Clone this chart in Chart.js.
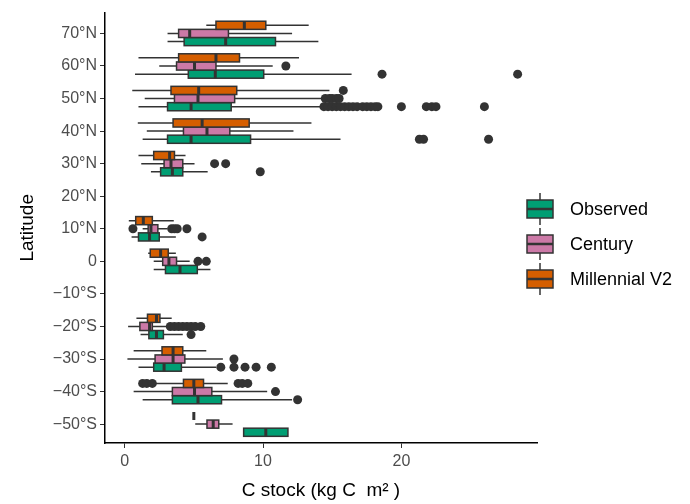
<!DOCTYPE html>
<html>
<head>
<meta charset="utf-8">
<script src="https://cdn.jsdelivr.net/npm/chart.js@4"></script>
<style>
  html, body { margin: 0; padding: 0; background: #fff; }
</style>
</head>
<body>
<canvas id="chart" width="690" height="504"></canvas>
<script>
// latitude bands (deg), one group of three boxes each
const latitudes = [70, 60, 50, 40, 30, 10, 0, -20, -30, -40, -50];
const seriesNames = ['Observed', 'Century', 'Millennial V2'];
const seriesColors = ['#009E73', '#CC79A7', '#D55E00'];

// [min, q1, median, q3, max] per latitude band
const observedBoxes = [
    [3.1, 4.3, 7.3, 10.9, 14.0],
    [0.75, 4.6, 6.55, 10.05, 16.4],
    [1.0, 3.1, 4.8, 7.7, 14.3],
    [1.3, 3.1, 4.8, 9.1, 15.6],
    [1.9, 2.6, 3.45, 4.2, 6.0],
    [0.5, 1.0, 1.8, 2.5, 3.7],
    [2.1, 2.95, 4.0, 5.25, 6.2],
    [1.15, 1.75, 2.3, 2.8, 4.2],
    [1.0, 2.1, 2.85, 4.1, 6.6],
    [1.3, 3.45, 5.3, 7.0, 12.1],
    [8.6, 8.6, 10.2, 11.8, 11.8]
];
const centuryBoxes = [
    [3.1, 3.9, 4.7, 7.5, 12.1],
    [2.5, 3.75, 5.05, 6.6, 10.7],
    [1.45, 3.6, 5.3, 7.95, 14.4],
    [1.6, 4.25, 5.95, 7.6, 12.2],
    [1.2, 2.85, 3.35, 4.2, 5.05],
    [1.3, 1.7, 1.9, 2.4, 3.1],
    [2.1, 2.75, 3.2, 3.75, 4.7],
    [0.25, 1.1, 1.8, 2.0, 3.1],
    [0.2, 2.2, 3.5, 4.35, 7.1],
    [0.65, 3.45, 5.05, 6.3, 10.3],
    [5.1, 5.95, 6.4, 6.8, 7.8]
];
const millennialBoxes = [
    [5.9, 6.6, 8.65, 10.2, 13.3],
    [1.0, 3.9, 6.6, 8.3, 12.6],
    [0.55, 3.35, 5.35, 8.1, 14.8],
    [0.95, 3.5, 5.6, 9.0, 13.5],
    [1.0, 2.1, 3.25, 3.6, 4.4],
    [0.3, 0.8, 1.35, 2.0, 3.55],
    [1.7, 1.85, 2.6, 3.15, 3.7],
    [0.85, 1.65, 2.3, 2.55, 3.4],
    [0.65, 2.7, 3.5, 4.2, 5.9],
    [2.2, 4.25, 5.0, 5.7, 7.45],
    [5.0, 5.0, 5.0, 5.0, 5.0]
];

// outliers per latitude band
const observedOutliers = [
    [],
    [18.6, 28.4],
    [14.4, 14.7, 15.0, 15.3, 15.6, 15.9, 16.2, 16.5, 16.8, 17.2, 17.5, 17.8, 18.1, 18.3, 20.0, 21.8, 22.2, 22.5, 26.0],
    [21.3, 21.6, 26.3],
    [9.8],
    [5.6],
    [],
    [4.8],
    [6.95, 7.9, 8.7, 9.5, 10.6],
    [12.5],
    []
];
const centuryOutliers = [
    [],
    [11.65],
    [14.5, 14.8, 15.0, 15.3, 15.5],
    [],
    [6.5, 7.3],
    [0.6, 3.4, 3.6, 3.8, 4.5],
    [5.3, 5.9],
    [3.3, 3.6, 3.9, 4.2, 4.5, 4.8, 5.1, 5.5],
    [7.9],
    [10.9],
    []
];
const millennialOutliers = [
    [], [], [15.8], [], [], [], [], [], [],
    [1.3, 1.6, 2.0, 8.2, 8.5, 8.9],
    []
];

const xTicks = [0, 10, 20];
const yTicks = [-50, -40, -30, -20, -10, 0, 10, 20, 30, 40, 50, 60, 70];
const yTickLabels = ['\u221250°S', '\u221240°S', '\u221230°S', '\u221220°S', '\u221210°S', '0',
    '10°N', '20°N', '30°N', '40°N', '50°N', '60°N', '70°N'];

const allBoxes = [observedBoxes, centuryBoxes, millennialBoxes];
const allOutliers = [observedOutliers, centuryOutliers, millennialOutliers];

const DODGE = 2.5; // degrees between neighbouring boxes
const offsets = [-DODGE, 0, DODGE];
const FONT = "'Liberation Sans', Arial, sans-serif";
const LINE = '#333333';

Chart.defaults.font.family = FONT;

const boxPlugin = {
    id: 'boxes',
    beforeDatasetsDraw(chart) {
        const { ctx, chartArea, scales: { x, y } } = chart;
        ctx.save();
        ctx.beginPath();
        ctx.rect(chartArea.left, chartArea.top, chartArea.width, chartArea.height);
        ctx.clip();
        allBoxes.forEach((boxes, s) => {
            boxes.forEach((b, i) => {
                const lat = latitudes[i] + offsets[s];
                const yc = y.getPixelForValue(lat);
                const half = Math.abs(y.getPixelForValue(lat + DODGE / 2) - yc);
                const [mn, q1, md, q3, mx] = b.map(v => x.getPixelForValue(v));
                ctx.strokeStyle = LINE;
                ctx.lineWidth = 1.5;
                ctx.beginPath();
                ctx.moveTo(mn, yc); ctx.lineTo(q1, yc);
                ctx.moveTo(q3, yc); ctx.lineTo(mx, yc);
                ctx.stroke();
                ctx.fillStyle = seriesColors[s];
                ctx.fillRect(q1, yc - half, q3 - q1, 2 * half);
                ctx.strokeRect(q1, yc - half, q3 - q1, 2 * half);
                ctx.lineWidth = 3;
                ctx.beginPath();
                ctx.moveTo(md, yc - half); ctx.lineTo(md, yc + half);
                ctx.stroke();
            });
        });
        ctx.restore();
    }
};

// ggplot-style legend with little boxplot keys
const legendPlugin = {
    id: 'boxLegend',
    afterDraw(chart) {
        const ctx = chart.ctx;
        const rowY = [209, 244, 279];
        ctx.save();
        seriesNames.forEach((name, s) => {
            const yc = rowY[s];
            ctx.strokeStyle = LINE;
            ctx.lineWidth = 1.5;
            ctx.beginPath();
            ctx.moveTo(540, yc - 16); ctx.lineTo(540, yc + 16);
            ctx.stroke();
            ctx.fillStyle = seriesColors[s];
            ctx.fillRect(527, yc - 9, 26, 18);
            ctx.strokeRect(527, yc - 9, 26, 18);
            ctx.lineWidth = 2.5;
            ctx.beginPath();
            ctx.moveTo(527, yc); ctx.lineTo(553, yc);
            ctx.stroke();
            ctx.fillStyle = '#000';
            ctx.font = '18px ' + FONT;
            ctx.textBaseline = 'middle';
            ctx.fillText(name, 570, yc + 1);
        });
        ctx.restore();
    }
};

new Chart(document.getElementById('chart'), {
    type: 'scatter',
    data: {
        datasets: seriesNames.map((name, s) => ({
            label: name,
            data: allOutliers[s].flatMap((pts, i) =>
                pts.map(v => ({ x: v, y: latitudes[i] + offsets[s] }))),
            pointRadius: 4.5,
            pointBackgroundColor: LINE,
            pointBorderWidth: 0
        }))
    },
    options: {
        responsive: false,
        animation: false,
        layout: { padding: { top: 12, right: 153, left: 0, bottom: 0 } },
        plugins: {
            legend: { display: false },
            tooltip: { enabled: false }
        },
        scales: {
            x: {
                type: 'linear',
                min: -1.42,
                max: 29.8,
                afterBuildTicks: scale => { scale.ticks = xTicks.map(v => ({ value: v })); },
                afterFit: scale => { scale.height = 61; },
                grid: { drawOnChartArea: false, color: LINE, tickLength: 5 },
                border: { color: '#000', width: 1.5 },
                ticks: { color: '#4d4d4d', font: { size: 16 }, padding: 4 },
                title: {
                    display: true,
                    text: 'C stock (kg C  m² )',
                    color: '#000',
                    font: { size: 19 },
                    padding: { top: 0, bottom: 2 }
                }
            },
            y: {
                type: 'linear',
                min: -55.8,
                max: 76.4,
                afterBuildTicks: scale => { scale.ticks = yTicks.map(v => ({ value: v })); },
                afterFit: scale => { scale.width = 105; },
                grid: { drawOnChartArea: false, color: LINE, tickLength: 5 },
                border: { color: '#000', width: 1.5 },
                ticks: {
                    color: '#4d4d4d',
                    font: { size: 16 },
                    padding: 3,
                    autoSkip: false,
                    callback: v => yTickLabels[yTicks.indexOf(v)]
                },
                title: {
                    display: true,
                    text: 'Latitude',
                    color: '#000',
                    font: { size: 19 },
                    padding: { top: 16, bottom: 0 }
                }
            }
        }
    },
    plugins: [boxPlugin, legendPlugin]
});
</script>
</body>
</html>
